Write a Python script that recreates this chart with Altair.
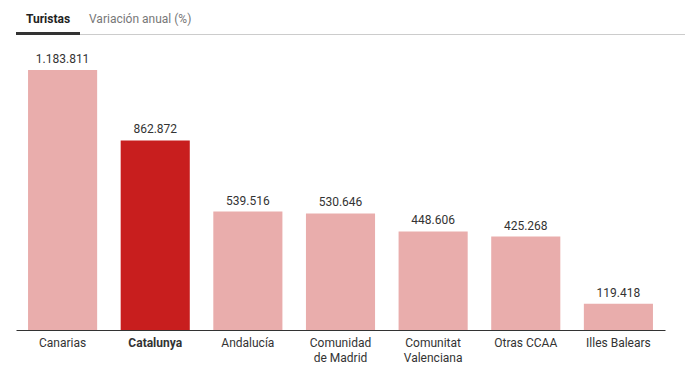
import altair as alt
import pandas as pd

regions = ["Canarias", "Catalunya", "Andalucía", "Comunidad de Madrid",
           "Comunitat Valenciana", "Otras CCAA", "Illes Balears"]
turistas = [1183811, 862872, 539516, 530646, 448606, 425268, 119418]
highlight = "Catalunya"
tabs = ["Turistas", "Variación anual (%)"]

labels = [f"{v:,}".replace(",", ".") for v in turistas]
df = pd.DataFrame({"region": regions, "turistas": turistas, "label": labels,
                   "hl": [r == highlight for r in regions]})

FONT = "Roboto"
x = alt.X("region:N", sort=regions,
          scale=alt.Scale(range=[8, 657], paddingInner=0.254, paddingOuter=0.13),
          axis=alt.Axis(title=None, ticks=False, labelAngle=0, labelPadding=7,
                        labelFont=FONT, labelFontSize=12, labelColor="#333",
                        labelLineHeight=15, labelBaseline="top",
                        labelFontWeight={"condition": {"test": f"datum.value == '{highlight}'", "value": "bold"}, "value": "normal"},
                        labelExpr="length(datum.label) > 14 ? [slice(datum.label, 0, indexof(datum.label, ' ')), slice(datum.label, indexof(datum.label, ' ') + 1)] : datum.label",
                        domainColor="#333", domainWidth=1, grid=False))
y = alt.Y("turistas:Q", scale=alt.Scale(domain=[0, 1183811], range=[322, 62], nice=False), axis=None)

base = alt.Chart(df)
bars = base.mark_bar().encode(
    x=x, y=y,
    color=alt.condition("datum.hl", alt.value("#C81E1E"), alt.value("#E9ADAC")),
)
text = base.mark_text(baseline="bottom", dy=-4, font=FONT, fontSize=12, color="#333").encode(
    x=x, y=y, text="label:N")

one = alt.Chart(pd.DataFrame({"a": [0]}))
tab1 = one.mark_text(align="left", baseline="middle", font=FONT, fontSize=12,
                     fontWeight="bold", color="#222").encode(
    x=alt.value(18), y=alt.value(11), text=alt.value(tabs[0]))
tab2 = one.mark_text(align="left", baseline="middle", font=FONT, fontSize=12,
                     color="#777").encode(
    x=alt.value(81), y=alt.value(11), text=alt.value(tabs[1]))
grayline = one.mark_rule(color="#ccc", strokeWidth=1).encode(
    x=alt.value(8), x2=alt.value(677), y=alt.value(26.5))
underline = one.mark_rule(color="#333", strokeWidth=3).encode(
    x=alt.value(8), x2=alt.value(72), y=alt.value(25.5))

chart = alt.layer(bars, text, grayline, underline, tab1, tab2).properties(
    width=681, height=322, autosize=alt.AutoSizeParams(type="none"),
    padding={"left": 0, "top": 0, "right": 0, "bottom": 44}
).configure_view(stroke=None)

chart.save("out.html", embed_options={"renderer": "svg", "actions": False})
